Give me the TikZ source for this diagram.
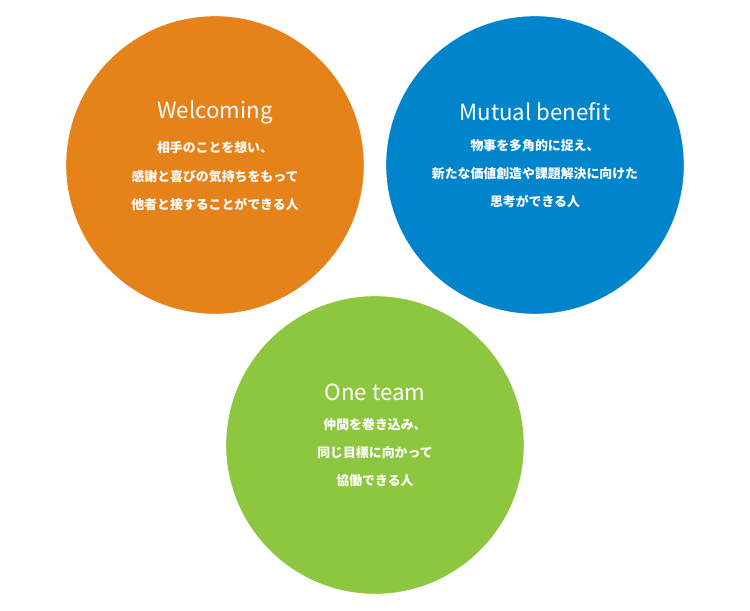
\documentclass[tikz,border=0pt]{standalone}
\usepackage{fontspec}
\setmainfont{Noto Sans CJK JP}
\usetikzlibrary{positioning}
\definecolor{welcomeorange}{HTML}{E5821A}
\definecolor{mutualblue}{HTML}{0085CC}
\definecolor{teamgreen}{HTML}{8DC63F}
\begin{document}
\begin{tikzpicture}[x=0.03cm,y=-0.03cm,
    value/.style={circle, draw=white, line width=2pt, minimum size=9cm, inner sep=0pt},
    title/.style={text=white, font=\fontsize{19}{22}\selectfont},
    desc/.style={text=white, align=center, font=\bfseries\fontsize{11}{24}\selectfont}
]
    \useasboundingbox (0,0) rectangle (750,610);
    \node[value, fill=welcomeorange] (welcoming) at (215,165) {};
    \node[value, fill=mutualblue] (mutual) at (535,165) {};
    \node[value, fill=teamgreen] (team) at (375,445) {};

    \node[title] (welcomingtitle) at (215,112) {Welcoming};
    \node[desc, below=0.3cm of welcomingtitle] {相手のことを想い、\\感謝と喜びの気持ちをもって\\他者と接することができる人};

    \node[title] (mutualtitle) at (535,112) {Mutual benefit};
    \node[desc, below=0.3cm of mutualtitle] {物事を多角的に捉え、\\新たな価値創造や課題解決に向けた\\思考ができる人};

    \node[title] (teamtitle) at (375,392) {One team};
    \node[desc, below=0.3cm of teamtitle] {仲間を巻き込み、\\同じ目標に向かって\\協働できる人};
\end{tikzpicture}
\end{document}
